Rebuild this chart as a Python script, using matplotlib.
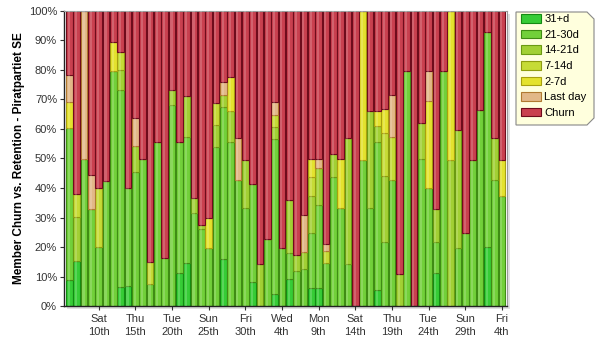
import numpy as np
import matplotlib
matplotlib.use("Agg")
import matplotlib.pyplot as plt
from matplotlib.patches import Polygon, Rectangle

plt.rcParams['font.family'] = ['Liberation Sans', 'DejaVu Sans']

# ---------DATA---------
# one value per day, percent of members in each bucket
d31 = [8.8, 15.3, 0, 0, 0, 0, 0, 6.3, 6.8, 0,
       0, 0, 0, 0, 0, 11.1, 14.5, 0, 0, 0,
       0, 15.9, 0, 0, 0, 8.2, 0, 0, 4.2, 0,
       9.0, 0, 0, 6.2, 6.0, 0, 0, 0, 0, 0,
       0, 0, 5.4, 0, 0, 0, 0, 0, 0, 0,
       11.1, 0, 0, 0, 0, 0, 0, 19.9, 0, 0]
d21 = [51.6, 0, 49.7, 32.9, 19.9, 42.5, 79.7, 66.8, 33.1, 45.3,
       49.7, 7.3, 55.5, 16.4, 68.1, 44.4, 42.7, 31.4, 26.1, 19.5,
       53.8, 51.7, 55.7, 42.7, 33.3, 33.2, 0, 22.6, 52.3, 19.8,
       8.9, 11.9, 12.4, 18.7, 28.2, 14.5, 43.6, 33.1, 14.2, 0,
       49.5, 33.3, 50.1, 21.8, 42.7, 0, 79.8, 0, 49.7, 40.1,
       10.7, 79.7, 0, 19.8, 24.6, 49.5, 66.4, 73.1, 42.7, 37.4]
d14 = [0, 15.0, 0, 0, 0, 0, 0, 6.8, 0, 9.0,
       0, 0, 0, 0, 5.1, 0, 14.1, 5.3, 1.3, 0,
       7.6, 3.9, 10.4, 0, 16.2, 0, 14.1, 0, 4.1, 0,
       18.0, 5.4, 6.0, 12.5, 12.5, 0, 7.9, 0, 42.9, 0,
       0, 32.8, 5.5, 22.4, 0, 10.7, 0, 0, 12.4, 0,
       11.1, 0, 49.5, 39.9, 0, 0, 0, 0, 14.1, 0]
d7 = [0, 7.7, 0, 0, 20.0, 0, 0, 6.3, 0, 0,
      0, 7.7, 0, 0, 0, 0, 0, 0, 0, 0,
      7.5, 0, 0, 0, 0, 0, 0, 0, 4.1, 0,
      0, 0, 0, 6.4, 0, 4.3, 0, 0, 0, 0,
      0, 0, 0, 14.3, 14.5, 0, 0, 0, 0, 0,
      0, 0, 0, 0, 0, 0, 0, 0, 0, 0]
d2 = [8.9, 0, 0, 0, 0, 0, 9.9, 0, 0, 0,
      0, 0, 0, 0, 0, 0, 0, 0, 0, 10.2,
      0, 0, 11.4, 0, 0, 0, 0, 0, 0, 0,
      0, 0, 0, 5.9, 0, 0, 0, 16.6, 0, 0,
      50.5, 0, 5.1, 8.2, 0, 0, 0, 0, 0, 29.5,
      0, 0, 50.5, 0, 0, 0, 0, 0, 0, 12.1]
last_day = [9.0, 0, 50.3, 11.5, 0, 0, 0, 0, 0, 9.3,
            0, 0, 0, 0, 0, 0, 0, 0, 0, 0,
            0, 4.3, 0, 14.4, 0, 0, 0, 0, 4.6, 0,
            0, 0, 12.6, 0, 3.0, 2.3, 0, 0, 0, 0,
            0, 0, 0, 0, 14.3, 0, 0, 0, 0, 10.2,
            0, 0, 0, 0, 0, 0, 0, 0, 0, 0]
churn = [21.7, 62.0, 0, 55.6, 60.1, 57.5, 10.4, 13.8, 60.1, 36.4,
         50.3, 85.0, 44.5, 83.6, 26.8, 44.5, 28.7, 63.3, 72.6, 70.3,
         31.1, 24.2, 22.5, 42.9, 50.5, 58.6, 85.9, 77.4, 30.7, 80.2,
         64.1, 82.7, 69.0, 50.3, 50.3, 78.9, 48.5, 50.3, 42.9, 100,
         0, 33.9, 33.9, 33.3, 28.5, 89.3, 20.2, 100, 37.9, 20.2,
         67.1, 20.3, 0, 40.3, 75.4, 50.5, 33.6, 7.0, 43.2, 50.5]

series = [d31, d21, d14, d7, d2, last_day, churn]
names = ["31+d", "21-30d", "14-21d", "7-14d", "2-7d", "Last day", "Churn"]
colors = ["#36cc36", "#72d03a", "#a2d034", "#c6db36", "#e4e22e", "#e2b888", "#c9404f"]
edges = ["#138a13", "#3f8c14", "#6b9a12", "#8e9c10", "#a8a010", "#b07a30", "#6e0c1c"]

tick_pos = [4, 9, 14, 19, 24, 29, 34, 39, 44, 49, 54, 59]
tick_labels = ["Sat\n10th", "Thu\n15th", "Tue\n20th", "Sun\n25th", "Fri\n30th", "Wed\n4th",
               "Mon\n9th", "Sat\n14th", "Thu\n19th", "Tue\n24th", "Sun\n29th", "Fri\n4th"]

# ---------PLOT---------
fig = plt.figure(figsize=(6, 3.5), dpi=100)
ax = fig.add_axes([0.1067, 0.1257, 0.7383, 0.8429])
ax.set_zorder(2)

# drop shadow behind the plot area
fig.patches.append(Rectangle((0.1067 + 0.005, 0.1257 - 0.009), 0.7383, 0.8429,
                             transform=fig.transFigure, facecolor="#e2e2e2",
                             edgecolor="none", zorder=1))
ax.set_facecolor("white")

x = np.arange(len(churn))
bottom = np.zeros(len(churn))
handles = []
for vals, name, col, ec in zip(series, names, colors, edges):
    vals = np.array(vals)
    b = ax.bar(x, vals, width=0.9, bottom=bottom, color=col, edgecolor=ec,
               linewidth=0.8, label=name, zorder=2)
    # lighter stripe for the glossy look
    ax.bar(x - 0.08, vals, width=0.3, bottom=bottom, color="white", alpha=0.18,
           linewidth=0, zorder=3)
    handles.append(b)
    bottom += vals

ax.set_xlim(-0.73, 59.7)
ax.set_ylim(0, 100)
ax.set_yticks(np.arange(0, 101, 10))
ax.set_yticklabels([f"{v}%" for v in range(0, 101, 10)], fontsize=8, color="#333333")
ax.set_xticks(tick_pos)
ax.set_xticklabels(tick_labels, fontsize=8, linespacing=1.3, color="#333333")
ax.tick_params(axis="both", length=3, color="#333333", pad=2)
ax.tick_params(axis="x", pad=3)
ax.set_ylabel("Member Churn vs. Retention - Piratpartiet SE", fontsize=8.5,
              fontweight="bold", labelpad=3)

for side in ["top", "right"]:
    ax.spines[side].set_color("#999999")
    ax.spines[side].set_linewidth(0.8)
for side in ["left", "bottom"]:
    ax.spines[side].set_color("#222222")
    ax.spines[side].set_linewidth(1.0)

# legend box with cut corners
W, H = 600.0, 350.0
lx0, lx1, ly0, ly1, c = 516, 594, 225, 338, 7
pts = [(lx0, ly1), (lx1 - c, ly1), (lx1, ly1 - c), (lx1, ly0 + c), (lx1 - c, ly0), (lx0, ly0)]
fig.patches.append(Polygon([(px / W, py / H) for px, py in pts], closed=True,
                           transform=fig.transFigure, facecolor="#ffffdd",
                           edgecolor="#888888", linewidth=0.8, zorder=1))

leg = fig.legend(handles=handles, labels=names, loc="upper left",
                 bbox_to_anchor=(521 / W, 1 - 14 / H), frameon=False, fontsize=8,
                 handlelength=1.8, handleheight=0.8, handletextpad=0.3,
                 labelspacing=0.5, borderaxespad=0, borderpad=0)
leg.set_zorder(5)

fig.savefig("out.png", dpi=100)
